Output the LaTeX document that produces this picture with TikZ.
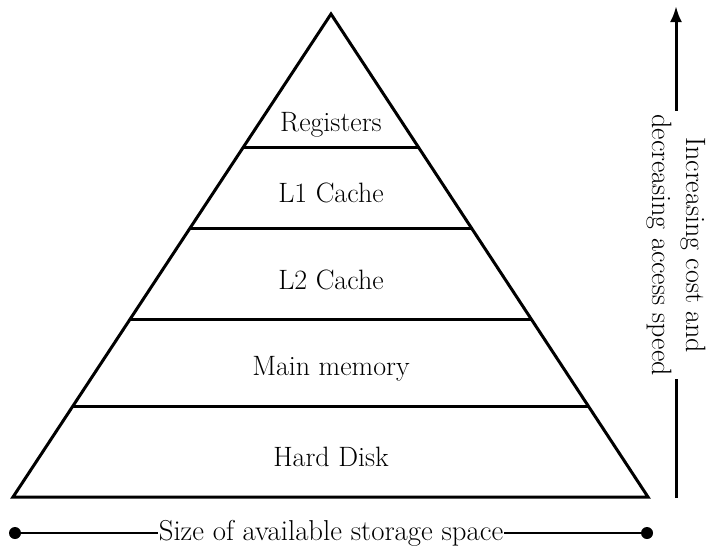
\documentclass[tikz,border=0pt]{standalone}
\usetikzlibrary{calc,arrows.meta}
\begin{document}
\begin{tikzpicture}[x=1pt,y=-1pt,
  pyr/.style={line width=3pt, line join=miter, line cap=round},
  layer/.style={line width=3pt},
  lbl/.style={font=\fontsize{28}{34}\selectfont, anchor=base, inner sep=0pt},
  axis/.style={line width=3pt},
  dotend/.style={circle, fill=black, inner sep=0pt, minimum size=12pt}
]
\useasboundingbox (0,0) rectangle (708,546);
% pyramid
\coordinate (A) at (331,14);
\coordinate (BL) at (13,497);
\coordinate (BR) at (648,497);
\draw[pyr] (A) -- (BL) -- (BR) -- cycle;
% layers
\foreach \t/\n in {0.2774/a,0.4431/b,0.6315/c,0.8116/d}{
  \coordinate (L\n) at ($(A)!\t!(BL)$);
  \coordinate (R\n) at ($(A)!\t!(BR)$);
  \draw[layer] (L\n) -- (R\n);
}
% labels
\node[lbl] (reg) at (331,131) {Registers};
\node[lbl] (l1) at (331,202) {L1 Cache};
\node[lbl] (l2) at (331,289) {L2 Cache};
\node[lbl] (mm) at (331,375) {Main memory};
\node[lbl] (hd) at (331,466) {Hard Disk};
% right arrow
\coordinate (ab) at (676,498);
\coordinate (at) at (676,6);
\draw[axis, -{Latex[length=16pt,width=12pt]}] (ab) -- node[pos=0.514, rotate=-90, fill=white, align=center, font=\fontsize{28}{34}\selectfont, inner sep=3pt] (cost) {Increasing cost and\\decreasing access speed} (at);
% bottom line
\node[dotend] (dl) at (15,533) {};
\node[dotend] (dr) at (647,533) {};
\draw[line width=2.4pt] (dl.center) -- node[fill=white, font=\fontsize{28.8}{34}\selectfont, inner sep=0.5pt] (size) {Size of available storage space} (dr.center);
\end{tikzpicture}
\end{document}
